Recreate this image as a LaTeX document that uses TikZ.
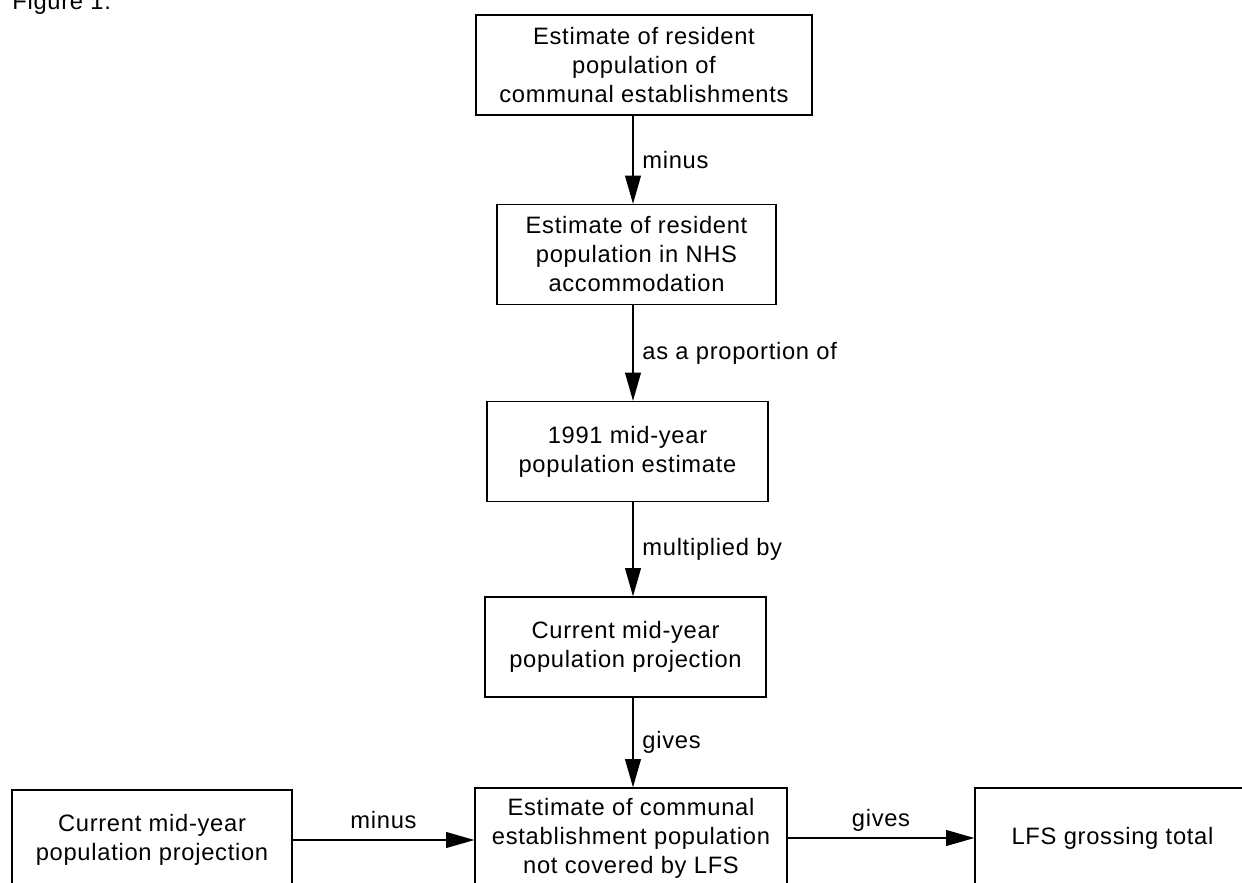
\documentclass[tikz,border=0pt]{standalone}
\usepackage{fontspec}
\setmainfont{Liberation Sans}[LetterSpace=3]
\usetikzlibrary{arrows.meta,positioning}

\tikzset{
    box/.style={
        draw=black,
        line width=0.8pt,
        align=center,
        minimum height=2cm,
        inner sep=2pt},
    flow/.style={
        draw=black,
        line width=0.7pt,
        -{Triangle[length=16pt,width=9pt]}},
    vlabel/.style={
        right=5pt,
        inner sep=0pt},
    hlabel/.style={
        above=6pt,
        inner sep=0pt,
        text depth=0pt}
}

\begin{document}
\begin{tikzpicture}[x=0.02cm, y=-0.02cm, font=\fontsize{13.5}{16.5}\selectfont]

\clip (0,0) rectangle (1242,883);

\node [anchor=base west, inner sep=0pt] (title) at (12,9) {Figure 1.};

% the chain down the middle
\node [box, minimum width=6.72cm] (est) at (644,65)
    {Estimate of resident\\population of\\communal establishments};
\node [box, minimum width=5.58cm] (nhs) at (636.5,254.5)
    {Estimate of resident\\population in NHS\\accommodation};
\node [box, minimum width=5.62cm] (base) at (627.5,451.5)
    {1991 mid-year\\population estimate};
\node [box, minimum width=5.62cm] (curr) at (625.5,647)
    {Current mid-year\\population projection};
\node [box, minimum width=6.24cm] (comm) at (631,838)
    {Estimate of communal\\establishment population\\not covered by LFS};

% bottom row
\node [box, minimum width=5.6cm] (proj) at (152,840)
    {Current mid-year\\population projection};
\node [box, minimum width=5.5cm] (total) at (1112.5,838)
    {LFS grossing total};

\coordinate (spine) at (633,0);

\foreach \a/\b/\t in {est/nhs/minus, nhs/base/as a proportion of, base/curr/multiplied by, curr/comm/gives}{
    \draw [flow] (\a.south -| spine) -- node [vlabel] {\t} (\b.north -| spine);
}

\draw [flow] (proj.east) -- node [hlabel] {minus} (proj.east -| comm.west);
\draw [flow] (comm.east) -- node [hlabel] {gives} (total.west);

\end{tikzpicture}
\end{document}
